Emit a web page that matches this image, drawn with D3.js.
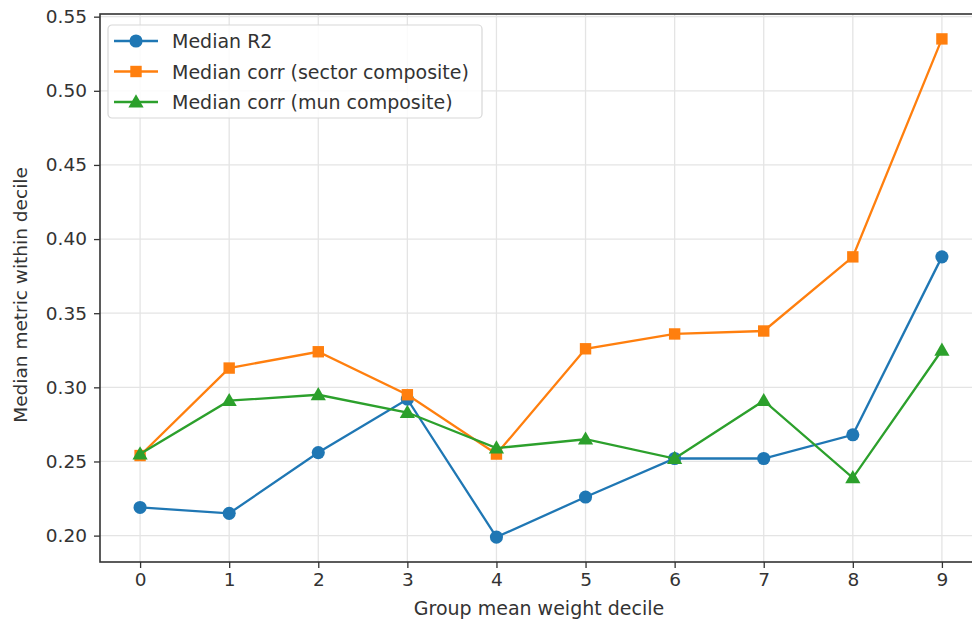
<!DOCTYPE html>
<html>
<head>
<meta charset="utf-8">
<script src="https://cdn.jsdelivr.net/npm/d3@7"></script>
<style>
body{margin:0;background:#fff;}
svg{display:block;overflow:hidden;font-family:"DejaVu Sans",sans-serif;}
</style>
</head>
<body>
<svg></svg>
<script>
const deciles = [0,1,2,3,4,5,6,7,8,9];
const medianR2 = [0.219,0.215,0.256,0.292,0.199,0.226,0.252,0.252,0.268,0.388];
const corrSector = [0.254,0.313,0.324,0.295,0.255,0.326,0.336,0.338,0.388,0.535];
const corrMun = [0.255,0.291,0.295,0.283,0.259,0.265,0.252,0.291,0.239,0.325];
const yTicks = [0.20,0.25,0.30,0.35,0.40,0.45,0.50,0.55];
const seriesNames = ['Median R2','Median corr (sector composite)','Median corr (mun composite)'];
const seriesColors = ['#1f77b4','#ff7f0e','#2ca02c'];
const seriesMarkers = ['circle','square','triangle'];

const W = 972, H = 626;
const margin = {left:100, top:14, right:-10, bottom:64};

var svg = d3.select('svg').attr('width', W).attr('height', H);

var series = [medianR2, corrSector, corrMun].map((v,i) => ({
	name: seriesNames[i], color: seriesColors[i], marker: seriesMarkers[i],
	values: v.map((d,j) => ({x: deciles[j], y: d}))
}));

// matplotlib-like 5% margins
var allY = [].concat(medianR2, corrSector, corrMun);
var yMin = d3.min(allY), yMax = d3.max(allY), yPad = (yMax-yMin)*0.05;
var xPad = (d3.max(deciles)-d3.min(deciles))*0.05;

var x = d3.scaleLinear().domain([d3.min(deciles)-xPad, d3.max(deciles)+xPad])
	.range([margin.left, W - margin.right]);
var y = d3.scaleLinear().domain([yMin-yPad, yMax+yPad])
	.range([H - margin.bottom, margin.top]);

// grid
var grid = svg.append('g');
grid.selectAll('line.gx').data(deciles).enter().append('line')
	.attr('x1', d => x(d)).attr('x2', d => x(d))
	.attr('y1', margin.top).attr('y2', H - margin.bottom)
	.style('stroke', '#e4e4e4').style('stroke-width', 1.3);
grid.selectAll('line.gy').data(yTicks).enter().append('line')
	.attr('x1', margin.left).attr('x2', W - margin.right)
	.attr('y1', d => y(d)).attr('y2', d => y(d))
	.style('stroke', '#e4e4e4').style('stroke-width', 1.3);

// axes
var xAxis = svg.append('g').attr('transform', `translate(0,${H - margin.bottom})`)
	.call(d3.axisBottom(x).tickValues(deciles).tickFormat(d3.format('d')).tickSize(6).tickPadding(5));
var yAxis = svg.append('g').attr('transform', `translate(${margin.left},0)`)
	.call(d3.axisLeft(y).tickValues(yTicks).tickFormat(d3.format('.2f')).tickSize(6).tickPadding(7));
[xAxis, yAxis].forEach(a => {
	a.select('.domain').remove();
	a.selectAll('line').style('stroke', '#333').style('stroke-width', 1.3);
	a.selectAll('text').style('font-size', '18.5px').style('fill', '#333').style('font-family', '"DejaVu Sans",sans-serif');
});

// spines
svg.append('rect').attr('x', margin.left).attr('y', margin.top)
	.attr('width', x.range()[1]-margin.left).attr('height', H - margin.bottom - margin.top)
	.style('fill', 'none').style('stroke', '#333').style('stroke-width', 1.6);

// axis labels
svg.append('text').attr('x', 539).attr('y', H - 11)
	.attr('text-anchor', 'middle').style('font-size', '19px').style('fill', '#333')
	.text('Group mean weight decile');
svg.append('text').attr('transform', `translate(27,${(margin.top + H - margin.bottom)/2 + 7}) rotate(-90)`)
	.attr('text-anchor', 'middle').style('font-size', '18.5px').style('fill', '#333')
	.text('Median metric within decile');

var symbolType = {circle: d3.symbolCircle, square: d3.symbolSquare, triangle: d3.symbolTriangle};
var symbolSize = {circle: 135, square: 130, triangle: 100};

// lines
var line = d3.line().x(d => x(d.x)).y(d => y(d.y));
var plot = svg.append('g');
series.forEach(s => {
	plot.append('path').datum(s.values).attr('d', line)
		.style('fill', 'none').style('stroke', s.color).style('stroke-width', 2.3);
	plot.selectAll(null).data(s.values).enter().append('path')
		.attr('transform', d => `translate(${x(d.x)},${y(d.y) + (s.marker==='triangle'?1:0)})`)
		.attr('d', d3.symbol().type(symbolType[s.marker]).size(symbolSize[s.marker]))
		.style('fill', s.color);
});

// legend
var lg = svg.append('g').attr('transform', 'translate(108,25)');
lg.append('rect').attr('width', 374).attr('height', 93).attr('rx', 4)
	.style('fill', 'rgba(255,255,255,0.85)').style('stroke', '#d8d8d8').style('stroke-width', 1.2);
series.forEach((s,i) => {
	var g = lg.append('g').attr('transform', `translate(0,${16 + i*30.5})`);
	g.append('line').attr('x1', 6).attr('x2', 50).attr('y1', 0).attr('y2', 0)
		.style('stroke', s.color).style('stroke-width', 2.3);
	g.append('path').attr('transform', `translate(28,${s.marker==='triangle'?1:0})`)
		.attr('d', d3.symbol().type(symbolType[s.marker]).size(symbolSize[s.marker]))
		.style('fill', s.color);
	g.append('text').attr('x', 64).attr('y', 7).style('font-size', '19px').style('fill', '#333')
		.text(s.name);
});
</script>
</body>
</html>
